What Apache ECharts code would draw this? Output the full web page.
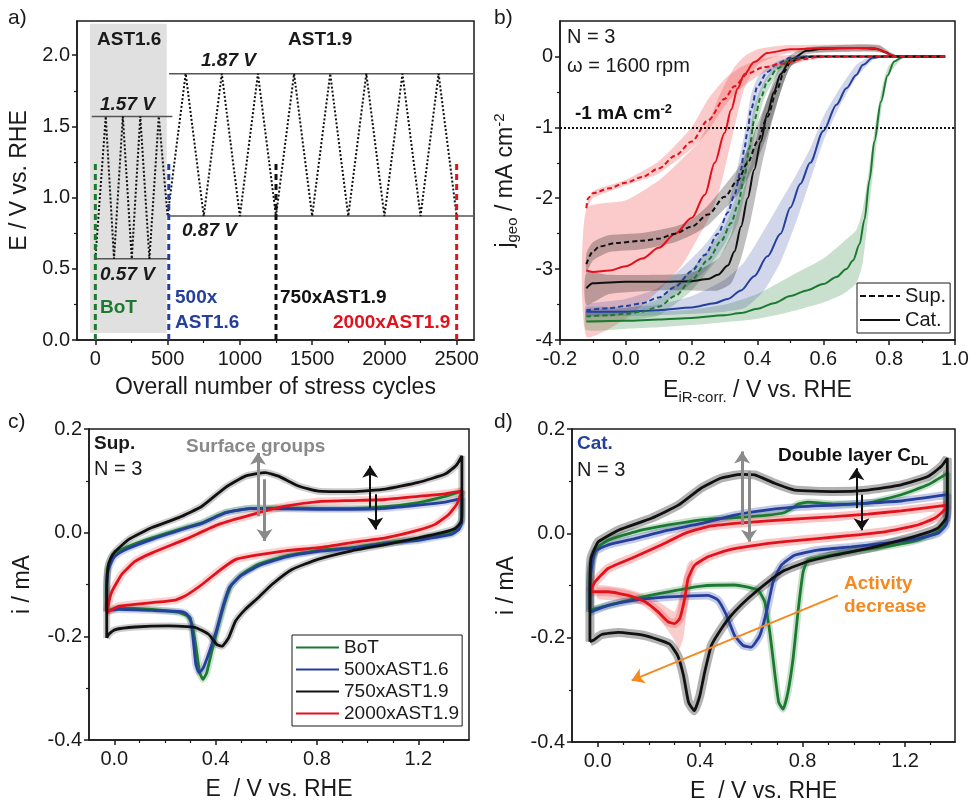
<!DOCTYPE html>
<html>
<head>
<meta charset="utf-8">
<script src="https://cdn.jsdelivr.net/npm/echarts@6/dist/echarts.min.js"></script>
<style>html,body{margin:0;padding:0;background:#fff}#main{width:971px;height:803px}</style>
</head>
<body>
<div id="main"></div>
<script>
// ---------- a) stress protocol ----------
var cycleNumber = [0, 72, 129, 190, 252, 311, 374, 439, 500, 625, 750, 875, 1000, 1125, 1250, 1375, 1500, 1625, 1750, 1875, 2000, 2125, 2250, 2375, 2500];
var cyclePotential = [0.57, 1.57, 0.57, 1.57, 0.57, 1.57, 0.57, 1.57, 0.87, 1.87, 0.87, 1.87, 0.87, 1.87, 0.87, 1.87, 0.87, 1.87, 0.87, 1.87, 0.87, 1.87, 0.87, 1.87, 0.87];
var limitValues = [1.57, 0.57, 1.87, 0.87];
var limitFrom = [-25, 3, 510, 517];
var limitTo = [533, 501, 2620, 2620];
var sampleCycles = [0, 508, 1250, 2500];
var sampleTop = 1.25;
var ast16Block = [-37, 494, 0.05, 2.22];

// ---------- b) ORR polarisation curves ----------
var catGreen = [[-0.12,-3.74],[0.0,-3.73],[0.1,-3.71],[0.2,-3.69],[0.3,-3.65],[0.35,-3.62],[0.4,-3.56],[0.45,-3.48],[0.5,-3.38],[0.55,-3.3],[0.6,-3.21],[0.64,-3.11],[0.67,-3.0],[0.69,-2.88],[0.71,-2.65],[0.725,-2.3],[0.74,-1.75],[0.755,-1.2],[0.775,-0.64],[0.795,-0.27],[0.815,-0.07],[0.84,-0.01],[0.87,0],[0.97,0]];
var catBlue = [[-0.12,-3.6],[0.0,-3.6],[0.1,-3.58],[0.2,-3.54],[0.27,-3.48],[0.31,-3.42],[0.35,-3.3],[0.39,-3.1],[0.43,-2.82],[0.47,-2.5],[0.5,-2.13],[0.53,-1.8],[0.56,-1.5],[0.6,-1.05],[0.64,-0.68],[0.67,-0.45],[0.7,-0.26],[0.72,-0.12],[0.75,-0.02],[0.78,0],[0.97,0]];
var catBlack = [[-0.12,-3.27],[-0.1,-3.2],[0.0,-3.18],[0.1,-3.18],[0.2,-3.17],[0.25,-3.14],[0.28,-3.08],[0.31,-2.95],[0.33,-2.75],[0.35,-2.4],[0.37,-2.0],[0.39,-1.6],[0.41,-1.2],[0.43,-0.8],[0.45,-0.5],[0.47,-0.25],[0.5,-0.05],[0.55,0.08],[0.6,0.11],[0.7,0.12],[0.76,0.11],[0.79,0.06],[0.81,0.01],[0.83,0],[0.97,0]];
var catRed = [[-0.12,-3.02],[-0.1,-3.04],[-0.05,-3.02],[0.0,-2.96],[0.05,-2.85],[0.1,-2.7],[0.15,-2.5],[0.2,-2.28],[0.24,-1.95],[0.27,-1.5],[0.3,-1.08],[0.32,-0.75],[0.34,-0.45],[0.36,-0.25],[0.39,-0.08],[0.43,0.05],[0.5,0.1],[0.6,0.12],[0.75,0.12],[0.78,0.08],[0.8,0.03],[0.82,0],[0.97,0]];
var supGreen = [[-0.12,-3.67],[-0.05,-3.65],[0.0,-3.63],[0.05,-3.6],[0.1,-3.53],[0.15,-3.38],[0.2,-3.15],[0.25,-2.87],[0.29,-2.6],[0.32,-2.35],[0.34,-2.1],[0.36,-1.7],[0.375,-1.3],[0.39,-0.9],[0.41,-0.58],[0.43,-0.35],[0.46,-0.17],[0.5,-0.05],[0.55,0],[0.97,0]];
var supBlue = [[-0.12,-3.58],[-0.05,-3.55],[0.0,-3.52],[0.05,-3.48],[0.1,-3.4],[0.15,-3.25],[0.2,-3.03],[0.24,-2.8],[0.28,-2.5],[0.31,-2.2],[0.33,-1.95],[0.35,-1.6],[0.36,-1.3],[0.37,-1.05],[0.38,-0.75],[0.4,-0.42],[0.43,-0.22],[0.46,-0.1],[0.5,-0.02],[0.55,0],[0.97,0]];
var supBlack = [[-0.12,-2.93],[-0.1,-2.75],[-0.08,-2.68],[-0.03,-2.63],[0.05,-2.6],[0.1,-2.57],[0.15,-2.5],[0.2,-2.4],[0.25,-2.23],[0.3,-1.98],[0.34,-1.75],[0.37,-1.5],[0.4,-1.2],[0.43,-0.85],[0.46,-0.46],[0.48,-0.22],[0.5,-0.08],[0.53,-0.02],[0.57,0],[0.97,0]];
var supRed = [[-0.12,-2.14],[-0.115,-2.0],[-0.1,-1.93],[-0.05,-1.86],[0.0,-1.78],[0.05,-1.7],[0.1,-1.58],[0.15,-1.4],[0.2,-1.2],[0.25,-0.9],[0.3,-0.6],[0.33,-0.42],[0.37,-0.24],[0.42,-0.15],[0.48,-0.1],[0.53,-0.04],[0.6,0],[0.97,0]];
// spread (N = 3): [E, lower, upper]
var catGreenBand = [[-0.12,-3.86,-3.62],[0.0,-3.84,-3.62],[0.1,-3.82,-3.6],[0.2,-3.79,-3.57],[0.3,-3.75,-3.5],[0.4,-3.7,-3.35],[0.5,-3.6,-3.1],[0.6,-3.47,-2.85],[0.66,-3.35,-2.62],[0.7,-3.2,-2.45],[0.72,-2.9,-2.15],[0.74,-2.1,-1.55],[0.76,-1.3,-0.9],[0.78,-0.65,-0.4],[0.8,-0.25,-0.12],[0.84,-0.02,0]];
var catBlueBand = [[-0.12,-3.66,-3.54],[0.0,-3.66,-3.54],[0.1,-3.65,-3.5],[0.2,-3.63,-3.38],[0.3,-3.6,-3.15],[0.36,-3.55,-2.9],[0.42,-3.3,-2.45],[0.47,-2.9,-2.05],[0.52,-2.3,-1.65],[0.56,-1.75,-1.3],[0.6,-1.2,-0.85],[0.65,-0.7,-0.45],[0.7,-0.3,-0.12],[0.75,-0.05,0.02],[0.78,0,0]];
var catBlackBand = [[-0.12,-3.5,-3.05],[-0.05,-3.35,-3.08],[0.1,-3.3,-3.08],[0.2,-3.3,-3.05],[0.28,-3.3,-2.85],[0.32,-3.2,-2.5],[0.35,-2.85,-2.0],[0.38,-2.3,-1.5],[0.41,-1.6,-0.9],[0.44,-1.0,-0.45],[0.47,-0.5,-0.12],[0.5,-0.15,0.02],[0.55,0.03,0.13],[0.7,0.07,0.17],[0.77,0.06,0.16],[0.8,0.02,0.07],[0.83,0,0]];
var catRedBand = [[-0.12,-3.95,-2.15],[0.0,-3.7,-2.03],[0.1,-3.3,-1.75],[0.17,-2.95,-1.45],[0.22,-2.55,-1.21],[0.25,-2.3,-0.95],[0.28,-1.95,-0.6],[0.3,-1.6,-0.4],[0.33,-1.0,-0.15],[0.36,-0.45,0.0],[0.4,-0.12,0.1],[0.45,-0.01,0.14],[0.5,0.05,0.16],[0.7,0.07,0.17],[0.77,0.07,0.15],[0.8,0.02,0.05],[0.82,0,0]];
var supGreenBand = [[-0.12,-3.75,-3.58],[0.0,-3.72,-3.55],[0.1,-3.65,-3.42],[0.2,-3.3,-3.0],[0.25,-3.02,-2.72],[0.3,-2.72,-2.4],[0.34,-2.35,-1.9],[0.37,-1.75,-1.25],[0.39,-1.15,-0.7],[0.42,-0.6,-0.35],[0.46,-0.25,-0.1],[0.5,-0.08,-0.02],[0.55,-0.01,0.01]];
var supBlueBand = [[-0.12,-3.66,-3.5],[0.0,-3.62,-3.42],[0.1,-3.52,-3.26],[0.2,-3.2,-2.85],[0.25,-2.98,-2.6],[0.3,-2.65,-2.25],[0.33,-2.35,-1.75],[0.36,-1.8,-1.1],[0.38,-1.2,-0.55],[0.4,-0.65,-0.3],[0.43,-0.32,-0.15],[0.47,-0.15,-0.05],[0.52,-0.03,0]];
var supBlackBand = [[-0.12,-3.05,-2.78],[-0.1,-2.88,-2.62],[-0.05,-2.76,-2.52],[0.05,-2.72,-2.49],[0.15,-2.62,-2.4],[0.2,-2.52,-2.3],[0.25,-2.38,-2.1],[0.3,-2.15,-1.82],[0.34,-1.95,-1.58],[0.37,-1.72,-1.3],[0.4,-1.45,-0.95],[0.43,-1.1,-0.6],[0.46,-0.65,-0.3],[0.5,-0.15,-0.03],[0.55,-0.02,0.01]];
var supRedBand = [[-0.12,-2.16,-2.1],[-0.1,-2.0,-1.9],[0.0,-1.82,-1.74],[0.1,-1.65,-1.48],[0.2,-1.3,-1.0],[0.25,-1.05,-0.6],[0.3,-0.7,-0.32],[0.35,-0.45,-0.15],[0.4,-0.28,-0.05],[0.45,-0.17,0.0],[0.5,-0.12,0.02],[0.55,-0.06,0.02],[0.6,-0.02,0.02]];

// ---------- c) CVs of the support ----------
var cvSupGreen = [[-0.03,-0.151],[-0.03,-0.1],[-0.025,-0.065],[-0.01,-0.047],[0.004,-0.039],[0.043,-0.029],[0.149,-0.01],[0.28,0.01],[0.346,0.019],[0.438,0.039],[0.543,0.047],[0.675,0.048],[0.806,0.047],[0.938,0.047],[1.07,0.05],[1.2,0.058],[1.306,0.07],[1.372,0.08],[1.372,0.03],[1.36,0.012],[1.332,0.0],[1.266,-0.006],[1.2,-0.013],[1.07,-0.019],[0.938,-0.029],[0.806,-0.034],[0.675,-0.045],[0.569,-0.061],[0.504,-0.08],[0.464,-0.1],[0.438,-0.132],[0.412,-0.177],[0.385,-0.228],[0.365,-0.27],[0.35,-0.283],[0.337,-0.27],[0.322,-0.22],[0.306,-0.175],[0.287,-0.16],[0.254,-0.154],[0.149,-0.148],[0.017,-0.145],[-0.03,-0.151]];
var cvSupBlue = [[-0.03,-0.151],[-0.03,-0.11],[-0.025,-0.075],[-0.01,-0.055],[0.004,-0.045],[0.043,-0.033],[0.149,-0.013],[0.28,0.008],[0.346,0.018],[0.438,0.038],[0.543,0.047],[0.675,0.046],[0.806,0.045],[0.938,0.045],[1.07,0.047],[1.2,0.053],[1.306,0.059],[1.372,0.066],[1.372,0.02],[1.36,0.006],[1.332,-0.003],[1.266,-0.009],[1.2,-0.015],[1.07,-0.021],[0.938,-0.03],[0.806,-0.036],[0.675,-0.047],[0.569,-0.064],[0.5,-0.083],[0.455,-0.105],[0.43,-0.14],[0.405,-0.185],[0.375,-0.23],[0.35,-0.262],[0.335,-0.27],[0.322,-0.255],[0.31,-0.2],[0.3,-0.165],[0.28,-0.155],[0.254,-0.152],[0.149,-0.15],[0.017,-0.148],[-0.03,-0.151]];
var cvSupBlack = [[-0.03,-0.203],[-0.03,-0.12],[-0.026,-0.07],[-0.015,-0.05],[0.004,-0.036],[0.057,-0.013],[0.149,0.01],[0.254,0.029],[0.346,0.051],[0.438,0.087],[0.517,0.109],[0.596,0.116],[0.648,0.109],[0.727,0.09],[0.806,0.08],[0.938,0.079],[1.07,0.084],[1.2,0.097],[1.306,0.113],[1.35,0.13],[1.372,0.148],[1.372,0.06],[1.37,0.022],[1.345,0.008],[1.293,0.0],[1.2,-0.01],[1.07,-0.023],[0.938,-0.035],[0.806,-0.051],[0.701,-0.071],[0.622,-0.1],[0.569,-0.125],[0.517,-0.148],[0.478,-0.171],[0.451,-0.203],[0.425,-0.219],[0.405,-0.216],[0.372,-0.196],[0.32,-0.183],[0.214,-0.18],[0.083,-0.182],[0.004,-0.187],[-0.022,-0.196],[-0.03,-0.203]];
var cvSupRed = [[-0.03,-0.154],[-0.02,-0.13],[-0.009,-0.113],[0.03,-0.08],[0.083,-0.055],[0.149,-0.039],[0.28,-0.013],[0.412,0.016],[0.543,0.035],[0.675,0.051],[0.806,0.06],[0.938,0.062],[1.07,0.064],[1.2,0.07],[1.306,0.075],[1.372,0.08],[1.352,0.055],[1.32,0.035],[1.266,0.016],[1.2,0.005],[1.07,-0.01],[0.938,-0.019],[0.806,-0.029],[0.675,-0.035],[0.543,-0.045],[0.478,-0.052],[0.412,-0.074],[0.346,-0.1],[0.28,-0.122],[0.241,-0.13],[0.149,-0.135],[0.017,-0.142],[-0.03,-0.154]];

// ---------- d) CVs of the catalyst ----------
var cvCatGreen = [[-0.03,-0.147],[-0.03,-0.1],[-0.026,-0.061],[-0.004,-0.029],[0.042,-0.013],[0.146,0.003],[0.276,0.016],[0.405,0.026],[0.535,0.03],[0.665,0.035],[0.73,0.04],[0.765,0.05],[0.782,0.056],[0.821,0.06],[0.925,0.056],[1.055,0.058],[1.185,0.074],[1.289,0.093],[1.365,0.115],[1.365,0.05],[1.36,0.022],[1.328,0.003],[1.25,-0.013],[1.12,-0.026],[0.99,-0.035],[0.873,-0.045],[0.821,-0.051],[0.802,-0.074],[0.782,-0.151],[0.763,-0.24],[0.743,-0.304],[0.724,-0.337],[0.707,-0.324],[0.691,-0.266],[0.672,-0.189],[0.652,-0.131],[0.626,-0.109],[0.535,-0.099],[0.405,-0.101],[0.276,-0.112],[0.146,-0.125],[0.042,-0.138],[-0.03,-0.147]];
var cvCatBlue = [[-0.03,-0.151],[-0.03,-0.11],[-0.026,-0.074],[-0.01,-0.035],[0.042,-0.022],[0.146,-0.01],[0.276,0.006],[0.405,0.019],[0.535,0.035],[0.665,0.045],[0.795,0.051],[0.925,0.054],[1.055,0.058],[1.185,0.062],[1.365,0.074],[1.365,0.04],[1.36,0.016],[1.328,0.0],[1.25,-0.01],[1.12,-0.019],[0.99,-0.026],[0.86,-0.032],[0.769,-0.042],[0.717,-0.061],[0.685,-0.093],[0.659,-0.151],[0.633,-0.196],[0.6,-0.218],[0.568,-0.215],[0.535,-0.196],[0.503,-0.157],[0.47,-0.128],[0.431,-0.119],[0.276,-0.122],[0.146,-0.128],[0.042,-0.138],[-0.03,-0.151]];
var cvCatBlack = [[-0.03,-0.208],[-0.03,-0.1],[-0.026,-0.048],[-0.01,-0.028],[0.003,-0.016],[0.081,0.006],[0.21,0.029],[0.315,0.054],[0.405,0.087],[0.483,0.106],[0.561,0.113],[0.613,0.112],[0.691,0.096],[0.769,0.083],[0.925,0.08],[1.055,0.083],[1.185,0.093],[1.289,0.109],[1.341,0.128],[1.365,0.144],[1.365,0.06],[1.36,0.029],[1.328,0.01],[1.276,0.0],[1.185,-0.013],[1.055,-0.029],[0.925,-0.042],[0.821,-0.054],[0.73,-0.071],[0.665,-0.093],[0.587,-0.125],[0.522,-0.157],[0.483,-0.183],[0.444,-0.215],[0.418,-0.266],[0.399,-0.311],[0.377,-0.34],[0.355,-0.324],[0.335,-0.272],[0.312,-0.234],[0.28,-0.212],[0.185,-0.196],[0.081,-0.19],[0.016,-0.194],[-0.017,-0.205],[-0.03,-0.208]];
var cvCatRed = [[-0.03,-0.112],[-0.01,-0.093],[0.042,-0.067],[0.146,-0.045],[0.25,-0.022],[0.341,0.0],[0.431,0.013],[0.535,0.019],[0.665,0.024],[0.795,0.028],[0.925,0.032],[1.055,0.037],[1.185,0.043],[1.365,0.054],[1.354,0.045],[1.315,0.029],[1.25,0.016],[1.12,0.003],[0.99,-0.004],[0.86,-0.01],[0.73,-0.016],[0.6,-0.024],[0.509,-0.032],[0.431,-0.045],[0.379,-0.061],[0.353,-0.087],[0.34,-0.125],[0.321,-0.163],[0.301,-0.173],[0.276,-0.17],[0.237,-0.151],[0.185,-0.131],[0.12,-0.119],[0.042,-0.112],[-0.03,-0.112]];
var cvCatRedBand = [[0.0,-0.125,-0.1],[0.1,-0.13,-0.105],[0.2,-0.14,-0.12],[0.25,-0.17,-0.135],[0.28,-0.19,-0.145],[0.3,-0.205,-0.15],[0.315,-0.225,-0.13],[0.335,-0.2,-0.09],[0.35,-0.14,-0.06],[0.37,-0.08,-0.05]];

// arrows [x1, y1, x2, y2] in data units
var supArrowsGrey = [[0.567, 0.032, 0.567, 0.154], [0.593, 0.103, 0.593, -0.016]];
var supArrowsBlack = [[1.01, 0.048, 1.01, 0.129], [1.03, 0.074, 1.03, 0.006]];
var catArrowsGrey = [[0.564, 0.016, 0.564, 0.157], [0.591, 0.119, 0.591, -0.016]];
var catArrowsBlack = [[1.01, 0.048, 1.01, 0.125], [1.03, 0.074, 1.03, 0.006]];
var activityArrow = [0.938, -0.119, 0.133, -0.282];

// tick values
var aXTicks = [0, 500, 1000, 1500, 2000, 2500], aXMinor = [250, 750, 1250, 1750, 2250];
var aYTicks = [0, 0.5, 1.0, 1.5, 2.0], aYMinor = [0.25, 0.75, 1.25, 1.75];
var bXTicks = [-0.2, 0, 0.2, 0.4, 0.6, 0.8, 1.0], bXMinor = [-0.1, 0.1, 0.3, 0.5, 0.7, 0.9];
var bYTicks = [-4, -3, -2, -1, 0], bYMinor = [-3.5, -2.5, -1.5, -0.5];
var cvXTicks = [0, 0.4, 0.8, 1.2], cvXMinor = [0.1, 0.2, 0.3, 0.5, 0.6, 0.7, 0.9, 1.0, 1.1, 1.3];
var cvYTicks = [-0.4, -0.2, 0, 0.2], cvYMinor = [-0.3, -0.1, 0.1];

var FONT = '"Liberation Sans", Arial, sans-serif';
var ink = '#1a1a1a';
var GREEN = '#1b7a30', BLUE = '#243f9c', BLACK = '#111111', RED = '#e3111c';
var ORANGE = '#f5891d', GREY = '#8a8a8a';

var chart = echarts.init(document.getElementById('main'));

function axisPair(dim, g, min, max, major, minor, fmt, name, gap, rich) {
    var main = {
        type: 'value', gridIndex: g, min: min, max: max,
        position: dim === 'x' ? 'bottom' : 'left',
        name: name, nameLocation: 'middle', nameGap: gap,
        nameTextStyle: { fontSize: 23, color: ink, fontFamily: FONT, rich: rich },
        axisLine: { show: true, onZero: false, lineStyle: { color: ink, width: 1.5 } },
        axisTick: { show: true, inside: false, length: 5, customValues: major, lineStyle: { color: ink, width: 1.5 } },
        axisLabel: { customValues: major, formatter: fmt, fontSize: 20, color: ink, fontFamily: FONT, margin: dim === 'x' ? 9 : 7 },
        splitLine: { show: false }
    };
    var sub = {
        type: 'value', gridIndex: g, min: min, max: max,
        position: dim === 'x' ? 'bottom' : 'left',
        axisLine: { show: false, onZero: false },
        axisTick: { show: true, inside: false, length: 3, customValues: minor, lineStyle: { color: ink, width: 1.2 } },
        axisLabel: { show: false },
        splitLine: { show: false }
    };
    return [main, sub];
}

function fix1(v) { return v.toFixed(1); }
function int0(v) { return String(Math.round(v)); }

function line(g, name, data, color, extra) {
    return Object.assign({
        type: 'line', name: name, xAxisIndex: 2 * g, yAxisIndex: 2 * g, data: data,
        symbol: 'none', showSymbol: false, smooth: 0.3, z: 3, silent: true,
        lineStyle: { color: color, width: 2 }, itemStyle: { color: color }
    }, extra || {});
}

function band(g, rows, color, z) {
    return {
        type: 'custom', xAxisIndex: 2 * g, yAxisIndex: 2 * g, silent: true, z: z || 1,
        data: [[rows[0][0], rows[0][1]]],
        renderItem: function (params, api) {
            var pts = rows.map(function (r) { return api.coord([r[0], r[2]]); });
            for (var i = rows.length - 1; i >= 0; i--) pts.push(api.coord([rows[i][0], rows[i][1]]));
            return { type: 'polygon', shape: { points: pts, smooth: 0.2 }, style: { fill: color } };
        }
    };
}

function arrows(list, color, width) {
    return list.map(function (a) {
        return [{ coord: [a[0], a[1]], lineStyle: { color: color, width: width, type: 'solid' } }, { coord: [a[2], a[3]] }];
    });
}

function cv(g, name, data, color, halo, haloWidth) {
    return [
        line(g, name + ' spread', data, halo, { smooth: 0.15, z: 2, lineStyle: { color: halo, width: haloWidth } }),
        line(g, name, data, color, { smooth: 0.15, lineStyle: { color: color, width: 2.8 } })
    ];
}

// ---------- axes ----------
var xAxes = [], yAxes = [];
[].push.apply(xAxes, axisPair('x', 0, -127, 2620, aXTicks, aXMinor, int0, 'Overall number of stress cycles', 36));
[].push.apply(yAxes, axisPair('y', 0, 0, 2.24, aYTicks, aYMinor, fix1, 'E / V vs. RHE', 46));
[].push.apply(xAxes, axisPair('x', 1, -0.2, 1.0, bXTicks, bXMinor, fix1, '{n|E}{s|iR-corr.}{n| / V vs. RHE}', 37,
    { n: { fontSize: 23, lineHeight: 28 }, s: { fontSize: 15, lineHeight: 15, verticalAlign: 'bottom' } }));
[].push.apply(yAxes, axisPair('y', 1, -4, 0.5, bYTicks, bYMinor, int0, '{n|j}{s|geo}{n| / mA cm}{p|-2}', 40,
    { n: { fontSize: 23, lineHeight: 28 }, s: { fontSize: 15, lineHeight: 15, verticalAlign: 'bottom' }, p: { fontSize: 15, lineHeight: 15, verticalAlign: 'top' } }));
[].push.apply(xAxes, axisPair('x', 2, -0.1, 1.4, cvXTicks, cvXMinor, fix1, 'E  / V vs. RHE', 38));
[].push.apply(yAxes, axisPair('y', 2, -0.4, 0.2, cvYTicks, cvYMinor, fix1, 'i / mA', 55));
[].push.apply(xAxes, axisPair('x', 3, -0.1, 1.395, cvXTicks, cvXMinor, fix1, 'E  / V vs. RHE', 38));
[].push.apply(yAxes, axisPair('y', 3, -0.4, 0.2, cvYTicks, cvYMinor, fix1, 'i / mA', 54));

// ---------- series ----------
var series = [];

// a)
series.push(line(0, 'block', [], '#ffffff', { z: 0, lineStyle: { opacity: 0 },
    markArea: { silent: true, itemStyle: { color: '#e0e0e0' },
        data: [[{ coord: [ast16Block[0], ast16Block[2]] }, { coord: [ast16Block[1], ast16Block[3]] }]] } }));
limitValues.forEach(function (v, i) {
    series.push(line(0, 'limit' + i, [[limitFrom[i], v], [limitTo[i], v]], '#555', { smooth: false, lineStyle: { color: '#555', width: 1.5 } }));
});
series.push(line(0, 'protocol', cycleNumber.map(function (c, i) { return [c, cyclePotential[i]]; }), BLACK,
    { smooth: false, lineStyle: { color: BLACK, width: 2, type: [2, 2] } }));
[GREEN, BLUE, BLACK, RED].forEach(function (col, i) {
    series.push(line(0, 'sample' + i, [[sampleCycles[i], 0], [sampleCycles[i], sampleTop]], col,
        { smooth: false, z: 4, lineStyle: { color: col, width: 3, type: [6, 4] } }));
});

// b)
series.push(band(1, catRedBand, 'rgba(240,70,70,0.28)'));
series.push(band(1, supRedBand, 'rgba(240,70,70,0.28)'));
series.push(band(1, catGreenBand, 'rgba(40,130,60,0.25)'));
series.push(band(1, supGreenBand, 'rgba(40,130,60,0.25)'));
series.push(band(1, catBlueBand, 'rgba(50,70,160,0.22)'));
series.push(band(1, supBlueBand, 'rgba(50,70,160,0.22)'));
series.push(band(1, catBlackBand, 'rgba(0,0,0,0.25)'));
series.push(band(1, supBlackBand, 'rgba(0,0,0,0.25)'));
var dash = [5, 3];
series.push(line(1, 'Cat. BoT', catGreen, GREEN, { smoothMonotone: 'x',
    markLine: { silent: true, symbol: ['none', 'none'], label: { show: false },
        lineStyle: { color: BLACK, width: 2, type: [2, 2] }, data: [{ yAxis: -1 }] } }));
series.push(line(1, 'Cat. 500x', catBlue, BLUE, { smoothMonotone: 'x' }));
series.push(line(1, 'Cat. 750x', catBlack, BLACK, { smoothMonotone: 'x' }));
series.push(line(1, 'Cat. 2000x', catRed, RED, { smoothMonotone: 'x' }));
series.push(line(1, 'Sup. BoT', supGreen, GREEN, { smoothMonotone: 'x', lineStyle: { color: GREEN, width: 2, type: dash } }));
series.push(line(1, 'Sup. 500x', supBlue, BLUE, { smoothMonotone: 'x', lineStyle: { color: BLUE, width: 2, type: dash } }));
series.push(line(1, 'Sup. 750x', supBlack, BLACK, { smoothMonotone: 'x', lineStyle: { color: BLACK, width: 2, type: dash } }));
series.push(line(1, 'Sup. 2000x', supRed, RED, { smoothMonotone: 'x', lineStyle: { color: RED, width: 2, type: dash } }));
series.push(line(1, 'Sup.', [], BLACK, { lineStyle: { color: BLACK, width: 2.5, type: [6, 3] } }));
series.push(line(1, 'Cat.', [], BLACK, { lineStyle: { color: BLACK, width: 2.5 } }));

// c)
[].push.apply(series, cv(2, 'BoT', cvSupGreen, GREEN, 'rgba(40,130,60,0.22)', 7));
[].push.apply(series, cv(2, '500xAST1.6', cvSupBlue, BLUE, 'rgba(50,70,160,0.22)', 7));
[].push.apply(series, cv(2, '2000xAST1.9', cvSupRed, RED, 'rgba(240,70,70,0.25)', 8));
var supBlackPair = cv(2, '750xAST1.9', cvSupBlack, BLACK, 'rgba(0,0,0,0.2)', 7);
supBlackPair[1].markLine = { silent: true, symbol: ['none', 'arrow'], symbolSize: 12, label: { show: false },
    lineStyle: { type: 'solid' },
    data: arrows(supArrowsGrey, GREY, 3).concat(arrows(supArrowsBlack, BLACK, 2)) };
[].push.apply(series, supBlackPair);

// d)
series.push(band(3, cvCatRedBand, 'rgba(240,90,90,0.3)'));
[].push.apply(series, cv(3, 'BoT', cvCatGreen, GREEN, 'rgba(40,130,60,0.25)', 7));
[].push.apply(series, cv(3, '500xAST1.6', cvCatBlue, BLUE, 'rgba(60,80,170,0.3)', 8));
[].push.apply(series, cv(3, '2000xAST1.9', cvCatRed, RED, 'rgba(240,90,90,0.35)', 9));
var catBlackPair = cv(3, '750xAST1.9', cvCatBlack, BLACK, 'rgba(0,0,0,0.3)', 9);
catBlackPair[1].markLine = { silent: true, symbol: ['none', 'arrow'], symbolSize: 12, label: { show: false },
    lineStyle: { type: 'solid' },
    data: arrows(catArrowsGrey, GREY, 3).concat(arrows(catArrowsBlack, BLACK, 2))
        .concat(arrows([activityArrow], ORANGE, 2)) };
[].push.apply(series, catBlackPair);

// ---------- text ----------
function txt(left, top, text, font, color, rich) {
    return { type: 'text', left: left, top: top, silent: true, z: 10,
        style: { text: text, font: font, fill: color || ink, rich: rich } };
}
var B19 = 'bold 19px ' + FONT, BI19 = 'bold italic 19px ' + FONT, R20 = '20px ' + FONT;
var graphics = [
    txt(8, 8, 'a)', '21px ' + FONT), txt(494, 8, 'b)', '21px ' + FONT),
    txt(8, 412, 'c)', '21px ' + FONT), txt(494, 412, 'd)', '21px ' + FONT),
    txt(97, 30, 'AST1.6', B19), txt(288, 30, 'AST1.9', B19),
    txt(201, 51, '1.87 V', BI19), txt(100, 95, '1.57 V', BI19),
    txt(100, 265, '0.57 V', BI19), txt(182, 221, '0.87 V', BI19),
    txt(100, 298, 'BoT', B19, GREEN), txt(175, 288, '500x', B19, BLUE), txt(175, 313, 'AST1.6', B19, BLUE),
    txt(280, 288, '750xAST1.9', B19, BLACK), txt(333, 313, '2000xAST1.9', B19, RED),
    txt(567, 27, 'N = 3', R20), txt(567, 56, 'ω = 1600 rpm', R20),
    txt(575, 103, '{b|-1 mA cm}{p|-2}', B19, BLACK,
        { b: { font: B19, lineHeight: 22 }, p: { font: 'bold 13px ' + FONT, lineHeight: 13, verticalAlign: 'top' } }),
    txt(94, 434, 'Sup.', B19), txt(94, 459, 'N = 3', R20),
    txt(186, 437, 'Surface groups', B19, GREY),
    txt(577, 434, 'Cat.', B19, BLUE), txt(577, 460, 'N = 3', R20),
    txt(778, 446, '{b|Double layer C}{s|DL}', B19, BLACK,
        { b: { font: B19, lineHeight: 24 }, s: { font: 'bold 13px ' + FONT, lineHeight: 13, verticalAlign: 'bottom' } }),
    txt(844, 574, 'Activity', B19, ORANGE), txt(844, 597, 'decrease', B19, ORANGE)
];

var gridBox = function (l, t, w, h) {
    return { left: l, top: t, width: w, height: h, show: true, borderColor: ink, borderWidth: 1.5,
        containLabel: false, outerBoundsMode: 'none' };
};

var option = {
    animation: false,
    backgroundColor: '#ffffff',
    textStyle: { fontFamily: FONT },
    grid: [gridBox(77, 21, 397, 319), gridBox(560, 21, 395, 319), gridBox(89, 429, 380, 311), gridBox(572, 429, 383, 313)],
    xAxis: xAxes,
    yAxis: yAxes,
    legend: [
        { data: ['Sup.', 'Cat.'], orient: 'vertical', left: 857, top: 283, itemWidth: 40, itemHeight: 14, itemGap: 4,
          padding: [3, 4, 3, 2], borderColor: ink, borderWidth: 1, backgroundColor: '#fff', selectedMode: false,
          itemStyle: { opacity: 0 },
          textStyle: { fontSize: 20, color: ink, fontFamily: FONT } },
        { data: ['BoT', '500xAST1.6', '750xAST1.9', '2000xAST1.9'], orient: 'vertical', left: 292, top: 635,
          itemWidth: 43, itemHeight: 14, itemGap: 3, padding: [3, 3, 3, 3], borderColor: ink, borderWidth: 1,
          itemStyle: { opacity: 0 },
          backgroundColor: '#fff', selectedMode: false, textStyle: { fontSize: 19, color: ink, fontFamily: FONT } }
    ],
    series: series,
    graphic: graphics
};

chart.setOption(option);
window.addEventListener('resize', function () { chart.resize(); });
</script>
</body>
</html>
